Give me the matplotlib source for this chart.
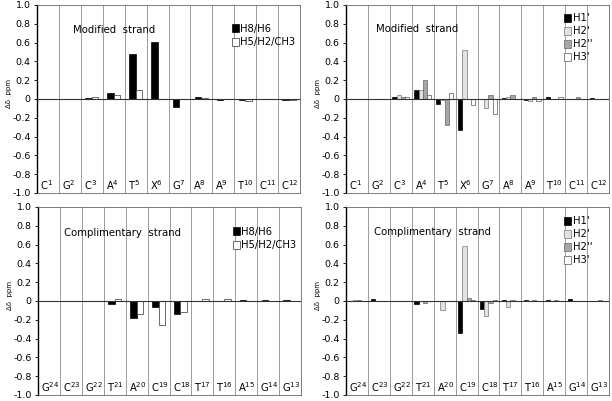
import numpy as np
import matplotlib
matplotlib.use('Agg')
import matplotlib.pyplot as plt

# residue labels
mod_bases = ['C', 'G', 'C', 'A', 'T', 'X', 'G', 'A', 'A', 'T', 'C', 'C']
mod_nums = [1, 2, 3, 4, 5, 6, 7, 8, 9, 10, 11, 12]
comp_bases = ['G', 'C', 'G', 'T', 'A', 'C', 'C', 'T', 'T', 'A', 'G', 'G']
comp_nums = [24, 23, 22, 21, 20, 19, 18, 17, 16, 15, 14, 13]

# base protons, modified strand
mod_h8 = [0.003, 0.005, 0.015, 0.06, 0.48, 0.61, -0.085, 0.02, -0.01, -0.01, -0.005, -0.015]
mod_h5 = [0.0, 0.0, 0.02, 0.045, 0.10, 0.0, 0.0, 0.015, 0.0, -0.02, 0.0, -0.015]

# sugar protons, modified strand
mod_h1p = [0.003, 0.005, 0.02, 0.10, -0.05, -0.33, 0.0, 0.01, -0.015, 0.02, 0.003, 0.01]
mod_h2p = [0.0, 0.0, 0.04, 0.10, -0.01, 0.52, -0.10, 0.02, -0.02, 0.0, 0.0, 0.0]
mod_h2pp = [0.0, 0.0, 0.02, 0.20, -0.28, 0.0, 0.04, 0.04, 0.02, 0.0, 0.02, 0.0]
mod_h3p = [0.0, 0.0, 0.02, 0.04, 0.06, -0.06, -0.155, 0.0, -0.02, 0.02, 0.0, 0.0]

# base protons, complementary strand
comp_h8 = [0.005, 0.0, 0.003, -0.03, -0.18, -0.065, -0.14, -0.005, 0.003, 0.01, 0.01, 0.01]
comp_h5 = [0.0, 0.0, 0.0, 0.02, -0.14, -0.26, -0.12, 0.02, 0.02, 0.0, 0.0, 0.0]

# sugar protons, complementary strand
comp_h1p = [0.0, 0.02, -0.003, -0.03, 0.005, -0.34, -0.08, 0.01, 0.015, 0.01, 0.02, 0.005]
comp_h2p = [0.015, 0.0, 0.0, 0.0, -0.10, 0.58, -0.16, -0.06, 0.0, 0.0, 0.0, 0.0]
comp_h2pp = [0.015, 0.0, 0.0, -0.02, 0.0, 0.035, -0.02, 0.015, 0.01, 0.01, 0.0, 0.01]
comp_h3p = [0.005, 0.0, 0.0, 0.0, 0.0, 0.015, 0.015, 0.0, 0.0, 0.0, 0.0, 0.0]

base_names = ['H8/H6', 'H5/H2/CH3']
sugar_names = ["H1'", "H2'", "H2''", "H3'"]
yticks = [1.0, 0.8, 0.6, 0.4, 0.2, 0, -0.2, -0.4, -0.6, -0.8, -1.0]
ytick_labels = ['1.0', '0.8', '0.6', '0.4', '0.2', '0', '-0.2', '-0.4', '-0.6', '-0.8', '-1.0']

plt.rcParams['font.family'] = 'DejaVu Sans'

fig = plt.figure(figsize=(6.12, 4.01), dpi=100)
W, H = 612.0, 401.0


def make_ax(x0, x1, y0, y1):  # pixel box -> axes
    return fig.add_axes([x0 / W, 1 - y1 / H, (x1 - x0) / W, (y1 - y0) / H])


def setup(ax, bases, nums, title, tx, ty):
    n = len(bases)
    ax.set_xlim(-0.5, n - 0.5)
    ax.set_ylim(-1.0, 1.0)
    for i in range(n - 1):
        ax.axvline(i + 0.5, color='#8c8c8c', lw=0.6, zorder=1)
    ax.axhline(0, color='#333333', lw=0.8, zorder=3)
    ax.set_xticks([])
    ax.set_yticks(yticks)
    ax.set_yticklabels(ytick_labels, fontsize=6.8)
    ax.tick_params(axis='y', length=2.5, width=0.6, pad=2)
    for s in ['top', 'right', 'bottom']:
        ax.spines[s].set_color('#666666')
        ax.spines[s].set_linewidth(0.6)
    ax.spines['left'].set_linewidth(1.0)
    for i, (b, k) in enumerate(zip(bases, nums)):
        ax.text(i - 0.5 + 0.14, -0.985, b + '$^{' + str(k) + '}$', fontsize=7.2,
                ha='left', va='bottom')
    ax.text(tx, ty, title, transform=ax.transAxes, fontsize=7.3, ha='left', va='center')
    ax.set_ylabel(u'\u0394\u03b4  ppm', fontsize=5, labelpad=1)
    ax.yaxis.set_label_coords(-0.095, 0.53)


def base_bars(ax, a, b, lx, ly):
    x = np.arange(len(a))
    w = 0.3
    ax.bar(x - w / 2, a, w, color='black', edgecolor='black', lw=0.5, label=base_names[0], zorder=2)
    ax.bar(x + w / 2, b, w, color='white', edgecolor='#333333', lw=0.5, label=base_names[1], zorder=2)
    ax.legend(loc='upper left', bbox_to_anchor=(lx, ly), frameon=False, fontsize=7.2,
              handlelength=0.7, handleheight=0.8, handletextpad=0.15, labelspacing=0.35,
              borderpad=0, borderaxespad=0)


def sugar_bars(ax, series, lx, ly):
    x = np.arange(len(series[0]))
    w = 0.19
    fills = ['black', '#e2e2e2', '#a6a6a6', 'white']
    edges = ['black', '#777777', '#666666', '#555555']
    for j, vals in enumerate(series):
        ax.bar(x + (j - 1.5) * w, vals, w, color=fills[j], edgecolor=edges[j], lw=0.5,
               label=sugar_names[j], zorder=2)
    ax.legend(loc='upper left', bbox_to_anchor=(lx, ly), frameon=False, fontsize=7.2,
              handlelength=0.7, handleheight=0.8, handletextpad=0.15, labelspacing=0.3,
              borderpad=0, borderaxespad=0)


ax1 = make_ax(37, 300, 5, 193)
setup(ax1, mod_bases, mod_nums, 'Modified  strand', 0.137, 0.867)
base_bars(ax1, mod_h8, mod_h5, 0.74, 0.90)

ax2 = make_ax(346, 609, 5, 193)
setup(ax2, mod_bases, mod_nums, 'Modified  strand', 0.114, 0.872)
sugar_bars(ax2, [mod_h1p, mod_h2p, mod_h2pp, mod_h3p], 0.83, 0.955)

ax3 = make_ax(38, 301, 207, 395)
setup(ax3, comp_bases, comp_nums, 'Complimentary  strand', 0.10, 0.862)
base_bars(ax3, comp_h8, comp_h5, 0.74, 0.895)

ax4 = make_ax(346, 609, 207, 395)
setup(ax4, comp_bases, comp_nums, 'Complimentary  strand', 0.106, 0.867)
sugar_bars(ax4, [comp_h1p, comp_h2p, comp_h2pp, comp_h3p], 0.83, 0.95)

fig.savefig('out.png', dpi=100)
